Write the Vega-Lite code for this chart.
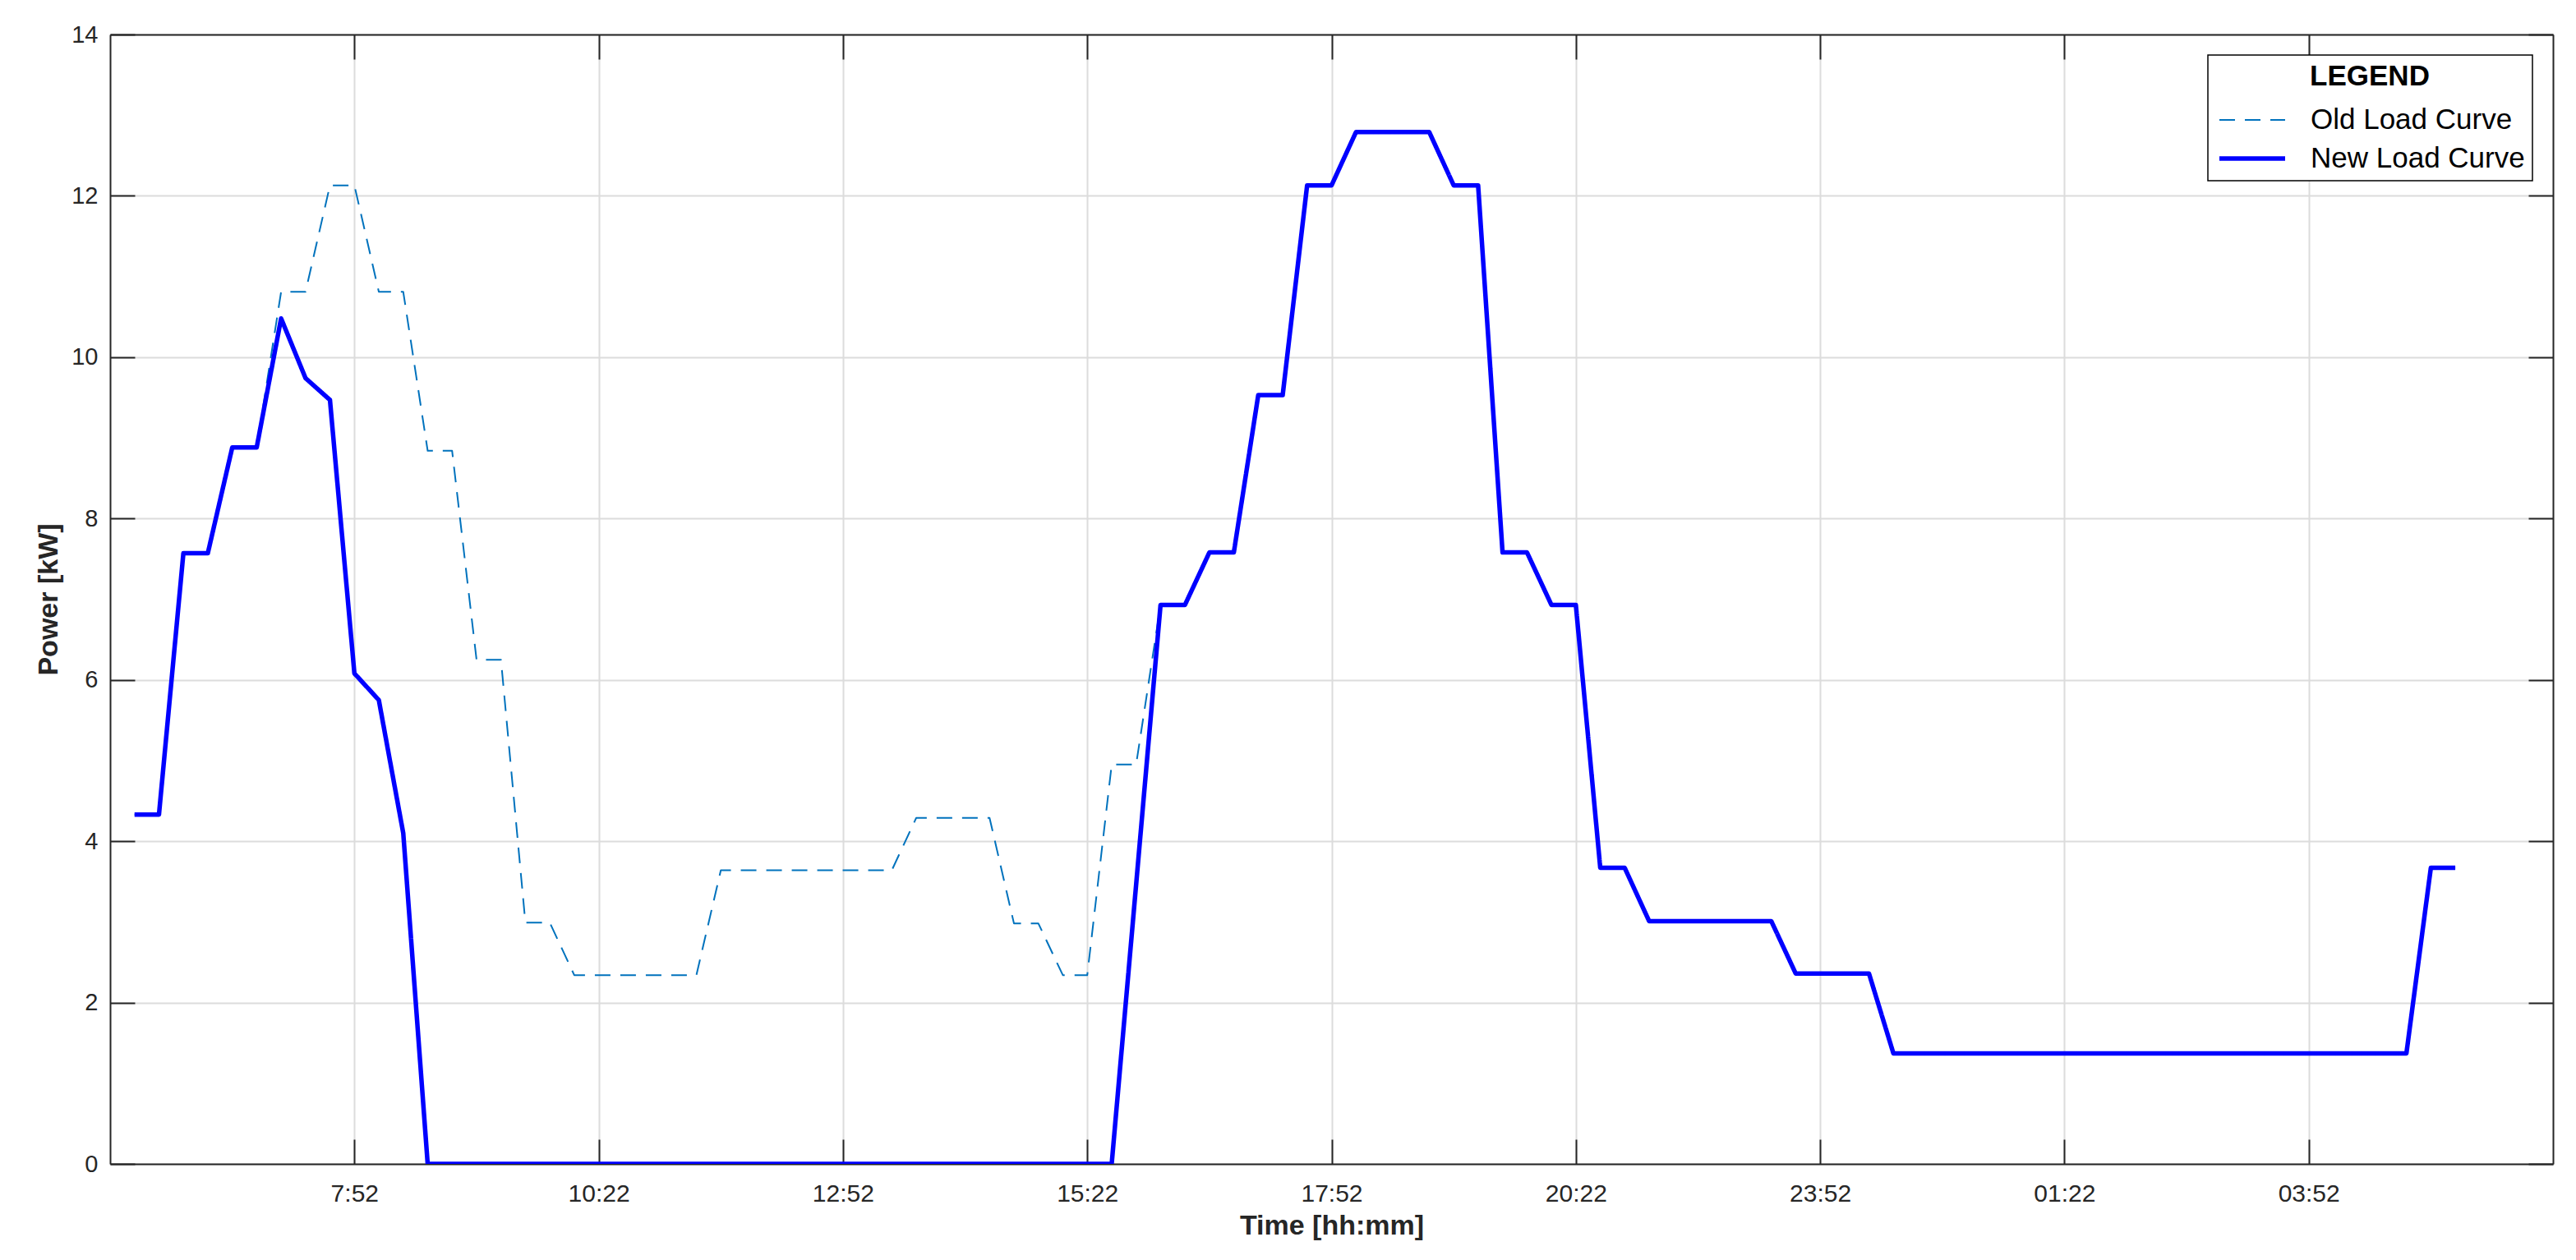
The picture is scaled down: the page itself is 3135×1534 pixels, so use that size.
{
  "$schema": "https://vega.github.io/schema/vega-lite/v6.json",
  "width": 2973,
  "height": 1375,
  "autosize": {"type": "none"},
  "padding": {"left": 134, "top": 42, "right": 28, "bottom": 117},
  "background": "white",
  "config": {
    "font": "Liberation Sans",
    "view": {"stroke": null},
    "axis": {
      "domainColor": "#262626",
      "domainWidth": 2,
      "tickColor": "#262626",
      "tickWidth": 2,
      "tickSize": -30,
      "gridColor": "#dcdcdc",
      "gridWidth": 2,
      "labelColor": "#262626",
      "labelFont": "Liberation Sans",
      "titleFont": "Liberation Sans",
      "titleColor": "#262626",
      "titleFontWeight": "bold",
      "titleFontSize": 34
    },
    "legend": {
      "orient": "top-right",
      "offset": 25,
      "strokeColor": "#000000",
      "strokeWidth": 1.5,
      "fillColor": "white",
      "padding": 9,
      "titleFontSize": 35,
      "titleFontWeight": "bold",
      "titleColor": "#000000",
      "titleAnchor": "middle",
      "titlePadding": 14,
      "labelFontSize": 35,
      "labelColor": "#000000",
      "labelLimit": 500,
      "labelFont": "Liberation Sans",
      "titleFont": "Liberation Sans",
      "symbolType": "M-2,0H2",
      "symbolSize": 1600,
      "symbolOffset": 22,
      "labelOffset": 48,
      "rowPadding": 6
    }
  },
  "data": {
    "values": [
      {"t": 5.6167, "old": 4.33, "new": 4.33},
      {"t": 5.8667, "old": 4.33, "new": 4.33},
      {"t": 6.1167, "old": 7.57, "new": 7.57},
      {"t": 6.3667, "old": 7.57, "new": 7.57},
      {"t": 6.6167, "old": 8.88, "new": 8.88},
      {"t": 6.8667, "old": 8.88, "new": 8.88},
      {"t": 7.1167, "old": 10.81, "new": 10.48},
      {"t": 7.3667, "old": 10.81, "new": 9.74},
      {"t": 7.6167, "old": 12.13, "new": 9.47},
      {"t": 7.8667, "old": 12.13, "new": 6.08},
      {"t": 8.1167, "old": 10.81, "new": 5.75},
      {"t": 8.3667, "old": 10.81, "new": 4.1},
      {"t": 8.6167, "old": 8.84, "new": 0},
      {"t": 8.8667, "old": 8.84, "new": 0},
      {"t": 9.1167, "old": 6.25, "new": 0},
      {"t": 9.3667, "old": 6.25, "new": 0},
      {"t": 9.6167, "old": 2.99, "new": 0},
      {"t": 9.8667, "old": 2.99, "new": 0},
      {"t": 10.1167, "old": 2.34, "new": 0},
      {"t": 10.3667, "old": 2.34, "new": 0},
      {"t": 10.6167, "old": 2.34, "new": 0},
      {"t": 10.8667, "old": 2.34, "new": 0},
      {"t": 11.1167, "old": 2.34, "new": 0},
      {"t": 11.3667, "old": 2.34, "new": 0},
      {"t": 11.6167, "old": 3.64, "new": 0},
      {"t": 11.8667, "old": 3.64, "new": 0},
      {"t": 12.1167, "old": 3.64, "new": 0},
      {"t": 12.3667, "old": 3.64, "new": 0},
      {"t": 12.6167, "old": 3.64, "new": 0},
      {"t": 12.8667, "old": 3.64, "new": 0},
      {"t": 13.1167, "old": 3.64, "new": 0},
      {"t": 13.3667, "old": 3.64, "new": 0},
      {"t": 13.6167, "old": 4.29, "new": 0},
      {"t": 13.8667, "old": 4.29, "new": 0},
      {"t": 14.1167, "old": 4.29, "new": 0},
      {"t": 14.3667, "old": 4.29, "new": 0},
      {"t": 14.6167, "old": 2.98, "new": 0},
      {"t": 14.8667, "old": 2.98, "new": 0},
      {"t": 15.1167, "old": 2.34, "new": 0},
      {"t": 15.3667, "old": 2.34, "new": 0},
      {"t": 15.6167, "old": 4.95, "new": 0},
      {"t": 15.8667, "old": 4.95, "new": 3.46},
      {"t": 16.1167, "old": 6.93, "new": 6.93},
      {"t": 16.3667, "old": 6.93, "new": 6.93},
      {"t": 16.6167, "old": 7.58, "new": 7.58},
      {"t": 16.8667, "old": 7.58, "new": 7.58},
      {"t": 17.1167, "old": 9.53, "new": 9.53},
      {"t": 17.3667, "old": 9.53, "new": 9.53},
      {"t": 17.6167, "old": 12.13, "new": 12.13},
      {"t": 17.8667, "old": 12.13, "new": 12.13},
      {"t": 18.1167, "old": 12.79, "new": 12.79},
      {"t": 18.3667, "old": 12.79, "new": 12.79},
      {"t": 18.6167, "old": 12.79, "new": 12.79},
      {"t": 18.8667, "old": 12.79, "new": 12.79},
      {"t": 19.1167, "old": 12.13, "new": 12.13},
      {"t": 19.3667, "old": 12.13, "new": 12.13},
      {"t": 19.6167, "old": 7.58, "new": 7.58},
      {"t": 19.8667, "old": 7.58, "new": 7.58},
      {"t": 20.1167, "old": 6.93, "new": 6.93},
      {"t": 20.3667, "old": 6.93, "new": 6.93},
      {"t": 20.6167, "old": 3.67, "new": 3.67},
      {"t": 20.8667, "old": 3.67, "new": 3.67},
      {"t": 21.1167, "old": 3.01, "new": 3.01},
      {"t": 21.3667, "old": 3.01, "new": 3.01},
      {"t": 21.6167, "old": 3.01, "new": 3.01},
      {"t": 21.8667, "old": 3.01, "new": 3.01},
      {"t": 22.1167, "old": 3.01, "new": 3.01},
      {"t": 22.3667, "old": 3.01, "new": 3.01},
      {"t": 22.6167, "old": 2.36, "new": 2.36},
      {"t": 22.8667, "old": 2.36, "new": 2.36},
      {"t": 23.1167, "old": 2.36, "new": 2.36},
      {"t": 23.3667, "old": 2.36, "new": 2.36},
      {"t": 23.6167, "old": 1.37, "new": 1.37},
      {"t": 23.8667, "old": 1.37, "new": 1.37},
      {"t": 24.1167, "old": 1.37, "new": 1.37},
      {"t": 24.3667, "old": 1.37, "new": 1.37},
      {"t": 24.6167, "old": 1.37, "new": 1.37},
      {"t": 24.8667, "old": 1.37, "new": 1.37},
      {"t": 25.1167, "old": 1.37, "new": 1.37},
      {"t": 25.3667, "old": 1.37, "new": 1.37},
      {"t": 25.6167, "old": 1.37, "new": 1.37},
      {"t": 25.8667, "old": 1.37, "new": 1.37},
      {"t": 26.1167, "old": 1.37, "new": 1.37},
      {"t": 26.3667, "old": 1.37, "new": 1.37},
      {"t": 26.6167, "old": 1.37, "new": 1.37},
      {"t": 26.8667, "old": 1.37, "new": 1.37},
      {"t": 27.1167, "old": 1.37, "new": 1.37},
      {"t": 27.3667, "old": 1.37, "new": 1.37},
      {"t": 27.6167, "old": 1.37, "new": 1.37},
      {"t": 27.8667, "old": 1.37, "new": 1.37},
      {"t": 28.1167, "old": 1.37, "new": 1.37},
      {"t": 28.3667, "old": 1.37, "new": 1.37},
      {"t": 28.6167, "old": 1.37, "new": 1.37},
      {"t": 28.8667, "old": 1.37, "new": 1.37},
      {"t": 29.1167, "old": 3.67, "new": 3.67},
      {"t": 29.3667, "old": 3.67, "new": 3.67}
    ]
  },
  "transform": [{"fold": ["old", "new"], "as": ["key", "kW"]}],
  "resolve": {"axis": {"x": "independent", "y": "independent"}},
  "layer": [
    {
      "transform": [{"filter": "datum.key == 'old'"}],
      "mark": {"type": "line", "strokeJoin": "round", "clip": true},
      "encoding": {
        "x": {
          "field": "t", "type": "quantitative",
          "scale": {"domain": [5.3667, 30.3667], "nice": false, "zero": false},
          "axis": {
            "orient": "bottom",
            "title": "Time [hh:mm]",
            "values": [7.8667, 10.3667, 12.8667, 15.3667, 17.8667, 20.3667, 22.8667, 25.3667, 27.8667],
            "labelExpr": "['7:52','10:22','12:52','15:22','17:52','20:22','23:52','01:22','03:52'][round((datum.value-7.8667)/2.5)]",
            "labelFontSize": 30,
            "labelPadding": 51,
            "titlePadding": 7,
            "grid": true
          }
        },
        "y": {
          "field": "kW", "type": "quantitative",
          "scale": {"domain": [0, 14], "nice": false},
          "axis": {
            "orient": "left",
            "title": "Power [kW]",
            "values": [0, 2, 4, 6, 8, 10, 12, 14],
            "labelFontSize": 29,
            "labelPadding": 45,
            "titlePadding": 10,
            "grid": true
          }
        },
        "color": {
          "field": "key", "type": "nominal",
          "scale": {"domain": ["old", "new"], "range": ["#0072BD", "#0000FF"]},
          "legend": {"title": "LEGEND", "labelExpr": "datum.label == 'old' ? 'Old Load Curve' : 'New Load Curve'"}
        },
        "strokeDash": {
          "field": "key", "type": "nominal",
          "scale": {"domain": ["old", "new"], "range": [[19, 12], [1, 0]]},
          "legend": {"title": "LEGEND", "labelExpr": "datum.label == 'old' ? 'Old Load Curve' : 'New Load Curve'"}
        },
        "strokeWidth": {
          "field": "key", "type": "nominal",
          "scale": {"domain": ["old", "new"], "range": [2, 5.5]},
          "legend": {"title": "LEGEND", "labelExpr": "datum.label == 'old' ? 'Old Load Curve' : 'New Load Curve'"}
        }
      }
    },
    {
      "transform": [{"filter": "datum.key == 'new'"}],
      "mark": {"type": "line", "strokeJoin": "round", "clip": true},
      "encoding": {
        "x": {
          "field": "t", "type": "quantitative",
          "scale": {"domain": [5.3667, 30.3667], "nice": false, "zero": false},
          "axis": {
            "orient": "top",
            "title": null,
            "values": [7.8667, 10.3667, 12.8667, 15.3667, 17.8667, 20.3667, 22.8667, 25.3667, 27.8667],
            "labels": false,
            "grid": false
          }
        },
        "y": {
          "field": "kW", "type": "quantitative",
          "scale": {"domain": [0, 14], "nice": false},
          "axis": {
            "orient": "right",
            "title": null,
            "values": [0, 2, 4, 6, 8, 10, 12, 14],
            "labels": false,
            "grid": false
          }
        },
        "color": {"field": "key", "type": "nominal", "legend": {"title": "LEGEND", "labelExpr": "datum.label == 'old' ? 'Old Load Curve' : 'New Load Curve'"}},
        "strokeDash": {"field": "key", "type": "nominal", "legend": {"title": "LEGEND", "labelExpr": "datum.label == 'old' ? 'Old Load Curve' : 'New Load Curve'"}},
        "strokeWidth": {"field": "key", "type": "nominal", "legend": {"title": "LEGEND", "labelExpr": "datum.label == 'old' ? 'Old Load Curve' : 'New Load Curve'"}}
      }
    }
  ]
}
